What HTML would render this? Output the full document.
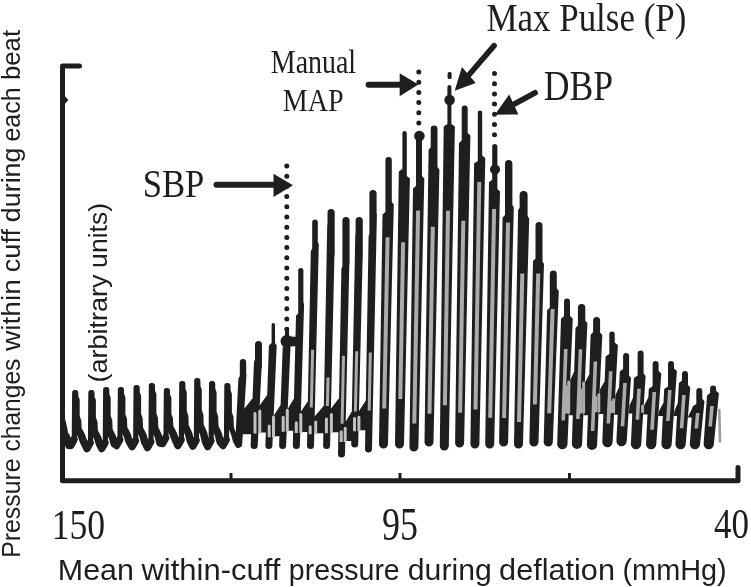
<!DOCTYPE html>
<html><head><meta charset="utf-8">
<style>
html,body{margin:0;padding:0;background:#fff;}
body{width:751px;height:587px;overflow:hidden;}
svg{display:block;will-change:transform;}
.sans{font-family:"Liberation Sans",sans-serif;}
.serif{font-family:"Liberation Serif",serif;}
</style></head>
<body>
<svg width="751" height="587" viewBox="0 0 751 587">
<rect width="751" height="587" fill="#fff"/>
<!-- axes -->
<path d="M79.5 66 H62.5 V480.8 H738 V467.5" fill="none" stroke="#1e1e1e" stroke-width="5" stroke-linejoin="round" stroke-linecap="round"/>
<path d="M231 480 V473 M400 480 V473 M569.5 480 V473" stroke="#1e1e1e" stroke-width="3"/>
<path d="M64 95 L68.3 100 L64 105 Z" fill="#1e1e1e"/>
<!-- waveform -->
<path d="M63,421 L65,430 L66,440 L69,446 L70.8,445.5 L74.3,439.5 L74.7,392.7 L75.7,392.7 L75.8,397.1 L77.1,400 L77.1,416.6 L78.7,420.7 L79.1,430.1 L81.6,436 L83.3,441 L87,448.5 L90.5,442.5 L90.9,392.7 L91.9,392.7 L92,397.4 L93.3,400.5 L93.3,417.9 L94.9,422.2 L95.3,432.2 L97.8,438.4 L99.5,444 L101.8,448.5 L105.3,442.5 L105.7,389.7 L106.7,389.7 L106.8,394.8 L108.1,398.1 L108.1,416.2 L109.7,420.8 L110.1,431.2 L112.6,437.7 L114.3,444 L116.5,445.5 L120,439.5 L120.4,389.7 L121.4,389.7 L121.5,394.4 L122.8,397.5 L122.8,414.9 L124.4,419.2 L124.8,429.2 L127.3,435.4 L129,441 L132.2,446.5 L135.7,440.5 L136.1,387.7 L137.1,387.7 L137.2,392.8 L138.5,396.1 L138.5,414.2 L140.1,418.8 L140.5,429.2 L143,435.7 L144.7,442 L147.5,447.5 L151,441.5 L151.4,385.7 L152.4,385.7 L152.5,391.2 L153.8,394.6 L153.8,413.6 L155.4,418.4 L155.8,429.2 L158.3,436 L160,443 L162.5,443.5 L166,437.5 L166.4,390.7 L167.4,390.7 L167.5,395.1 L168.8,398 L168.8,414.6 L170.4,418.7 L170.8,428.1 L173.3,434 L175,439 L177.9,445.5 L181.4,439.5 L181.8,383.7 L182.8,383.7 L182.9,389.2 L184.2,392.6 L184.2,411.6 L185.8,416.4 L186.2,427.2 L188.7,434 L190.4,441 L192.9,446 L196.4,440 L196.8,380.7 L197.8,380.7 L197.9,386.6 L199.2,390.2 L199.2,410.2 L200.8,415.2 L201.2,426.6 L203.7,433.8 L205.4,441.5 L207.7,446.5 L211.2,440.5 L211.6,383.7 L212.6,383.7 L212.7,389.3 L214,392.7 L214,412.1 L215.6,416.9 L216,427.9 L218.5,434.8 L220.2,442 L223,445.5 L226.5,439.5 L226.9,385.7 L227.9,385.7 L228,390.9 L229.3,394.2 L229.3,412.7 L230.9,417.3 L231.3,427.9 L233.8,434.5 L235.5,441 L238,445.5" fill="none" stroke="#1e1e1e" stroke-width="5.2" stroke-linejoin="round" stroke-linecap="round"/>
<path d="M79.1,431.3 L81.6,436 L83.3,441 L87,448.5 L90.1,443 M66,436 L69,445.5 L70.8,445.5 L73.9,439.5 M95.3,433.4 L97.8,438.4 L99.5,444 L101.8,448.5 L104.9,443 M110.1,432.5 L112.6,437.7 L114.3,444 L116.5,445.5 L119.6,440 M124.8,430.4 L127.3,435.4 L129,441 L132.2,446.5 L135.3,441 M140.5,430.5 L143,435.7 L144.7,442 L147.5,447.5 L150.6,442 M155.8,430.6 L158.3,436 L160,443 L162.5,443.5 L165.6,438 M170.8,429.3 L173.3,434 L175,439 L177.9,445.5 L181,440 M186.2,428.6 L188.7,434 L190.4,441 L192.9,446 L196,440.5 M201.2,428.1 L203.7,433.8 L205.4,441.5 L207.7,446.5 L210.8,441 M216,429.3 L218.5,434.8 L220.2,442 L223,445.5 L226.1,440" fill="none" stroke="#1e1e1e" stroke-width="7.5" stroke-linejoin="round" stroke-linecap="round"/>
<path d="M239.8,362.2 A3.2,3.2 0 0 1 246.2,362.2 L246.2,373.1 L246.4,375.6 L242.2,444 A3.5,3.5 0 0 1 235.2,444 L238.4,378.6 L239.8,376.1 Z M255,344.5 A3.5,3.5 0 0 1 262,344.5 L262,367 L261.5,369.5 L257.7,445.5 A3.5,3.5 0 0 1 250.6,445.5 L254,361.7 L255,359.2 Z M271.6,324.7 A1.7,1.7 0 0 1 275,324.7 L275,343 L276.7,345.5 L272.4,445.5 A3.5,3.5 0 0 1 265.4,445.5 L268.9,345.5 L271.6,343 Z M285,329 A2,2 0 0 1 289,329 L289,340 L290.7,342.5 L286.1,445.5 A3.5,3.5 0 0 1 279.1,445.5 L282.7,347.5 L285,345 Z M298.2,270.6 A2.6,2.6 0 0 1 303.4,270.6 L303.4,302.1 L304.1,304.6 L299.9,445.5 A3.5,3.5 0 0 1 292.8,445.5 L296,315.8 L298.2,313.3 Z M312.2,222.3 A2.8,2.8 0 0 1 317.8,222.3 L317.8,241.7 L318.8,244.2 L314,445.5 A3.5,3.5 0 0 1 307,445.5 L310.8,251.1 L312.2,248.6 Z M327.5,212.6 A3.6,3.6 0 0 1 334.7,212.6 L334.7,254 L334.4,256.5 L330.1,445.5 A3.5,3.5 0 0 1 323.1,445.5 L327.2,226.1 L327.5,223.6 Z M342.4,220.6 A3.6,3.6 0 0 1 349.6,220.6 L349.6,262 L349.3,264.5 L345,454 A3.5,3.5 0 0 1 338,454 L341.4,268.8 L342.4,266.3 Z M355.6,220.6 A3.6,3.6 0 0 1 362.8,220.6 L362.8,256.4 L362.6,258.9 L358.2,444 A3.5,3.5 0 0 1 351.2,444 L355.3,234.6 L355.6,232.1 Z M369.4,193.6 A3.6,3.6 0 0 1 376.6,193.6 L376.6,212.5 L376.9,215 L372,449 A3.5,3.5 0 0 1 365,449 L368.6,236.3 L369.4,233.8 Z M385.4,160.2 A3.2,3.2 0 0 1 391.8,160.2 L391.8,202 L393.8,204.5 L388,444 A4.5,4.5 0 0 1 379,444 L382.5,214.5 L385.4,212 Z M402.4,133.2 A2.2,2.2 0 0 1 406.8,133.2 L406.8,176 L409.9,178.5 L404,444 A4.5,4.5 0 0 1 395,444 L398.8,171.5 L402.4,169 Z M416,134 A3,3 0 0 1 422,134 L422,176 L424.3,178.5 L418.4,447 A4.5,4.5 0 0 1 409.4,447 L413,188.5 L416,186 Z M430.7,128.9 A3.4,3.4 0 0 1 437.5,128.9 L437.5,167 L439.4,169.5 L433.5,442 A4.5,4.5 0 0 1 424.5,442 L428.6,149.7 L430.7,147.2 Z M447.4,87 A2,2 0 0 1 451.4,87 L451.4,124 L454.9,126.5 L448.8,446 A4.5,4.5 0 0 1 439.8,446 L443.7,126.5 L447.4,124 Z M461.7,108.5 A3,3 0 0 1 467.7,108.5 L467.7,132.9 L470.4,135.4 L464.1,443 A4.5,4.5 0 0 1 455.1,443 L459,143.1 L461.7,140.6 Z M477.8,112.7 A2.2,2.2 0 0 1 482.2,112.7 L482.2,155.5 L485.3,158 L479.4,444 A4.5,4.5 0 0 1 470.4,444 L474.1,163.6 L477.8,161.1 Z M492.2,146.6 A2.6,2.6 0 0 1 497.4,146.6 L497.4,189 L500,191.5 L494.2,444 A4.5,4.5 0 0 1 485.2,444 L489,182.3 L492.2,179.8 Z M505,163.7 A3.7,3.7 0 0 1 512.4,163.7 L512.4,205 L513.8,207.5 L508.1,442 A4.5,4.5 0 0 1 499.1,442 L502.6,217.5 L505,215 Z M519.6,195 A4,4 0 0 1 527.6,195 L527.6,216.1 L529.2,218.6 L523,444 A4.5,4.5 0 0 1 514,444 L518.1,210.3 L519.6,207.8 Z M535.5,225.5 A3.5,3.5 0 0 1 542.5,225.5 L542.5,261.4 L544,263.9 L538.5,442 A4.5,4.5 0 0 1 529.4,442 L533,260.9 L535.5,258.4 Z M549.8,274 A3.5,3.5 0 0 1 556.8,274 L556.8,288.5 L558.8,291 L552.8,442 A4.5,4.5 0 0 1 543.7,442 L547.1,310.2 L549.8,307.7 Z M564,301.5 A3,3 0 0 1 570,301.5 L570,316 L572.8,318.5 L567.5,444 A5.1,5.1 0 0 1 557.2,444 L561,318.7 L564,316.2 Z M577.9,307.7 A3.7,3.7 0 0 1 585.3,307.7 L585.3,320.8 L587.4,323.3 L582.1,444 A5.1,5.1 0 0 1 571.9,444 L575.5,328 L577.9,325.5 Z M593.1,320.5 A3.5,3.5 0 0 1 600.1,320.5 L600.1,332.5 L602.3,335 L597.1,445 A5.1,5.1 0 0 1 586.9,445 L590.6,334.7 L593.1,332.2 Z M609.3,334.2 A2.7,2.7 0 0 1 614.7,334.2 L614.7,342.5 L617.9,345 L612.6,442 A5.1,5.1 0 0 1 602.3,442 L605.6,356.6 L609.3,354.1 Z M623.1,356 A3,3 0 0 1 629.1,356 L629.1,375.6 L631,378.1 L626.7,441 A5.1,5.1 0 0 1 616.4,441 L619.8,371.4 L623.1,368.9 Z M637.6,353.5 A3,3 0 0 1 643.6,353.5 L643.6,373.6 L645.6,376.1 L641.2,444 A5.1,5.1 0 0 1 630.9,444 L633.9,378.1 L637.6,375.6 Z M652.6,364 A3,3 0 0 1 658.6,364 L658.6,371 L661.3,373.5 L656.3,444 A5.1,5.1 0 0 1 646,444 L648.8,388.8 L652.6,386.3 Z M668,364 A3,3 0 0 1 674,364 L674,368.6 L676.9,371.1 L671.7,444 A5.1,5.1 0 0 1 661.4,444 L664.2,389.1 L668,386.6 Z M682,374 A3,3 0 0 1 688,374 L688,385.1 L690.3,387.6 L685.7,444 A5.1,5.1 0 0 1 675.4,444 L678.9,383.1 L682,380.6 Z M696.3,391 A3,3 0 0 1 702.3,391 L702.3,398.7 L704.5,401.2 L700.1,444 A5.1,5.1 0 0 1 689.8,444 L692.5,406.5 L696.3,404 Z M710.1,388.5 A3,3 0 0 1 716.1,388.5 L716.1,390.8 L718.9,393.3 L713.9,444 A5.1,5.1 0 0 1 703.6,444 L707,395.4 L710.1,392.9 Z M244.2,409.1 L253.4,397.1 L251.9,434.2 L242.7,434.2 Z M259.5,405.7 L268,393.7 L266.5,432.6 L258,432.6 Z M273.7,415.8 L281.4,403.8 L279.9,436.3 L272.2,436.3 Z M287.7,409.1 L294.9,397.1 L293.4,430.7 L286.2,430.7 Z M300.8,411.7 L308.8,399.7 L307.3,432.1 L299.3,432.1 Z M314.7,416.6 L324.8,404.6 L323.3,433.2 L313.2,433.2 Z M330.9,408.7 L340,396.7 L338.5,432.3 L329.4,432.3 Z M345.7,421.8 L352.8,409.8 L351.3,440.9 L344.2,440.9 Z M359,411 L366.8,399 L365.3,430.3 L357.5,430.3 Z M570.4,379.8 L575,369.8 L573.7,415.3 L569.1,415.3 Z M585,382.5 L590.2,372.5 L588.9,415.3 L583.7,415.3 Z M600,389.5 L605.6,379.5 L604.4,414 L598.9,414 Z M615.4,395.2 L619.9,385.2 L618.7,414.7 L614.4,414.7 Z M629.5,405.5 L634,395.5 L633.3,413.4 L628.8,413.4 Z M644,405.8 L649.2,395.8 L648.5,414.5 L643.3,414.5 Z M659,411 L664.4,401 L663.8,416.1 L658.4,416.1 Z M674.4,411 L678.6,401 L678,416 L673.8,416 Z M688.4,416 L693.3,406 L692.7,417.5 L687.9,417.5 Z" fill="#1e1e1e"/>
<path d="M311.1,349.7L314.1,349.7L312.8,407.4L309.8,407.4Z M326.5,377.4L329.5,377.4L328.9,405.9L325.9,405.9Z M342,355.8L345,355.8L343.6,423.8L340.6,423.8Z M355.2,351.2L358.2,351.2L356.9,411.6L353.9,411.6Z M368.8,352.6L371.8,352.6L370.7,410.6L367.7,410.6Z M385.6,237.3L389.6,237.3L386.2,408.5L382.2,408.5Z M401.1,242.2L405.1,242.2L402.3,399.1L398.3,399.1Z M416.1,210.4L420.1,210.4L416.3,423.6L412.3,423.6Z M430.8,226.8L434.8,226.8L431.5,413.8L427.5,413.8Z M446,210.8L450,210.8L446.9,405.3L442.9,405.3Z M461.3,220.8L465.3,220.8L462.1,412.8L458.1,412.8Z M477.3,181.9L481.3,181.9L477.5,409.4L473.5,409.4Z M492.1,209L496.1,209L492.2,417.7L488.2,417.7Z M506,222.5L510,222.5L506.1,418.1L502.1,418.1Z M520.3,273.4L524.3,273.4L521,422L517,422Z M536.2,273.4L540.2,273.4L536.9,404.5L532.9,404.5Z M550.6,308.9L554.6,308.9L551.2,413.2L547.2,413.2Z M564,349.1L567.6,349.1L565,420.4L561.4,420.4Z M578.7,349.2L582.3,349.2L579.7,419.1L576.1,419.1Z M593.6,361.6L597.2,361.6L594.4,431.1L590.8,431.1Z M608.9,371.3L612.5,371.3L610.1,423.6L606.5,423.6Z M623.2,382.9L626.8,382.9L624.3,426.2L620.7,426.2Z M637.3,388.8L640.9,388.8L639.2,419.7L635.6,419.7Z M652.5,391.9L656.1,391.9L653.8,429.8L650.2,429.8Z M668,390.1L671.6,390.1L669.7,421.1L666.1,421.1Z M682.1,395L685.7,395L683.4,428.3L679.8,428.3Z M695.9,413L699.5,413L698.1,428.6L694.5,428.6Z M710.2,405.9L713.8,405.9L712,426.6L708.4,426.6Z M567.2,382 A1.5,1.5 0 0 1 570.2,382 V412.3 A1.5,1.5 0 0 1 567.2,412.3 Z M564.4,386.4 A1.5,1.5 0 0 1 567.4,386.4 V412.3 A1.5,1.5 0 0 1 564.4,412.3 Z M582.1,383 A1.5,1.5 0 0 1 585.1,383 V412.3 A1.5,1.5 0 0 1 582.1,412.3 Z M579,389.6 A1.5,1.5 0 0 1 582,389.6 V412.3 A1.5,1.5 0 0 1 579,412.3 Z M597.3,394.8 A1.5,1.5 0 0 1 600.3,394.8 V411 A1.5,1.5 0 0 1 597.3,411 Z M594,397.3 A1.5,1.5 0 0 1 597,397.3 V411 A1.5,1.5 0 0 1 594,411 Z M612.1,399.7 A1.5,1.5 0 0 1 615.1,399.7 V411.7 A1.5,1.5 0 0 1 612.1,411.7 Z M609.4,401.9 A1.5,1.5 0 0 1 612.4,401.9 V411.7 A1.5,1.5 0 0 1 609.4,411.7 Z M641.1,405.9 A1.5,1.5 0 0 1 644.1,405.9 V411.5 A1.5,1.5 0 0 1 641.1,411.5 Z" fill="#ababab"/>
<path d="M258.3,410.9 A1.5,1.5 0 0 1 261.3,410.9 V433.6 H258.3 Z M253.5,413.4 A1.5,1.5 0 0 1 256.5,413.4 V433.6 H253.5 Z M272,416.9 A1.5,1.5 0 0 1 275,416.9 V437.3 H272 Z M267.7,426.1 A1.5,1.5 0 0 1 270.7,426.1 V437.3 H267.7 Z M285.8,410.2 A1.5,1.5 0 0 1 288.8,410.2 V431.7 H285.8 Z M281.7,417.2 A1.5,1.5 0 0 1 284.7,417.2 V431.7 H281.7 Z M299.3,414.6 A1.5,1.5 0 0 1 302.3,414.6 V433.1 H299.3 Z M294.8,422.7 A1.5,1.5 0 0 1 297.8,422.7 V433.1 H294.8 Z M314.2,422 A1.5,1.5 0 0 1 317.2,422 V434.2 H314.2 Z M308.7,426.8 A1.5,1.5 0 0 1 311.7,426.8 V434.2 H308.7 Z M329.9,414.4 A1.5,1.5 0 0 1 332.9,414.4 V433.3 H329.9 Z M324.9,419 A1.5,1.5 0 0 1 327.9,419 V433.3 H324.9 Z M343.7,428.2 A1.5,1.5 0 0 1 346.7,428.2 V441.9 H343.7 Z M339.7,431.7 A1.5,1.5 0 0 1 342.7,431.7 V441.9 H339.7 Z M357.4,417.2 A1.5,1.5 0 0 1 360.4,417.2 V431.3 H357.4 Z M353,418.6 A1.5,1.5 0 0 1 356,418.6 V431.3 H353 Z" fill="#c2c2c2"/>
<path d="M719.3 410 L720 441.5" stroke="#9a9a9a" stroke-width="2.6" stroke-linecap="round"/>
<!-- dotted lines -->
<g stroke="#1e1e1e" stroke-width="5" stroke-linecap="round" fill="none" stroke-dasharray="0 10.2">
<path d="M286.8 166 V330"/>
<path d="M418.8 72 V128"/>
<path d="M494.5 73.5 V140"/>
</g>
<!-- dots -->
<g fill="#1e1e1e">
<circle cx="286.9" cy="341.3" r="6.3"/>
<path d="M291 336.5 L298 337 V346 L291 346.5 Z"/>
<circle cx="419.4" cy="136" r="5.3"/>
<circle cx="449.6" cy="100" r="5.3"/>
<circle cx="495" cy="169.5" r="5"/>
</g>
<!-- arrows -->
<g stroke="#1e1e1e" stroke-width="6" stroke-linecap="round" fill="none">
<path d="M216.5 184.8 H276"/>
<path d="M368.6 84.7 H401"/>
</g>
<g stroke="#1e1e1e" stroke-width="5.6" stroke-linecap="round" fill="none">
<path d="M494.1 45.7 L468 76"/>
<path d="M535.2 92.8 L513 104.8"/>
</g>
<g fill="#1e1e1e">
<path d="M273.5 173.7 L293 185.3 L273.5 197 Z"/>
<path d="M399.7 73.3 L418.3 84.6 L399.7 96.2 Z"/>
<path d="M461.9 67.1 L475.7 83 L454.7 90.7 Z"/>
<path d="M509.2 94.4 L518.4 114.4 L494.8 114.8 Z"/>
<rect x="447.6" y="72" width="4" height="7" rx="1.5"/>
</g>
<!-- labels -->
<g class="words" fill="#1e1e1e">
<text class="w" id="sbp" x="142.7" y="197.2" font-family='"Liberation Serif",serif' font-size="39.18" textLength="61.69" lengthAdjust="spacingAndGlyphs">SBP</text>
<text class="w" id="manual" x="270.8" y="72.8" font-family='"Liberation Serif",serif' font-size="33.90" textLength="85.32" lengthAdjust="spacingAndGlyphs">Manual</text>
<text class="w" id="map" x="282.8" y="111" font-family='"Liberation Serif",serif' font-size="31.47" textLength="60.83" lengthAdjust="spacingAndGlyphs">MAP</text>
<text class="w" id="maxp" x="486.4" y="30.6" font-family='"Liberation Serif",serif' font-size="39.41" textLength="200.01" lengthAdjust="spacingAndGlyphs">Max Pulse (P)</text>
<text class="w" id="dbp" x="543.7" y="100" font-family='"Liberation Serif",serif' font-size="42.18" textLength="69.33" lengthAdjust="spacingAndGlyphs">DBP</text>
<text class="w" id="n150" x="51.7" y="539.3" font-family='"Liberation Serif",serif' font-size="43.21" textLength="53.50" lengthAdjust="spacingAndGlyphs">150</text>
<text class="w" id="n95" x="382" y="539.5" font-family='"Liberation Serif",serif' font-size="47.41" textLength="35.96" lengthAdjust="spacingAndGlyphs">95</text>
<text class="w" id="n40" x="714" y="538" font-family='"Liberation Serif",serif' font-size="41.40" textLength="35.00" lengthAdjust="spacingAndGlyphs">40</text>
<text class="w" id="xl0" x="57.8" y="580.4" font-family='"Liberation Sans",sans-serif' font-size="29.00" textLength="76.07" lengthAdjust="spacingAndGlyphs">Mean</text>
<text class="w" id="xl1" x="141.5" y="580.4" font-family='"Liberation Sans",sans-serif' font-size="29.00" textLength="138.90" lengthAdjust="spacingAndGlyphs">within-cuff</text>
<text class="w" id="xl2" x="288.8" y="580.4" font-family='"Liberation Sans",sans-serif' font-size="29.00" textLength="110.93" lengthAdjust="spacingAndGlyphs">pressure</text>
<text class="w" id="xl3" x="407.8" y="580.4" font-family='"Liberation Sans",sans-serif' font-size="29.00" textLength="83.94" lengthAdjust="spacingAndGlyphs">during</text>
<text class="w" id="xl4" x="499.1" y="580.4" font-family='"Liberation Sans",sans-serif' font-size="29.00" textLength="115.85" lengthAdjust="spacingAndGlyphs">deflation</text>
<text class="w" id="xl5" x="622.5" y="580.4" font-family='"Liberation Sans",sans-serif' font-size="29.00" textLength="104.24" lengthAdjust="spacingAndGlyphs">(mmHg)</text>
<text class="w" id="yl0" transform="translate(19.6 557.8) rotate(-90)" font-family='"Liberation Sans",sans-serif' font-size="25.08" textLength="99.32" lengthAdjust="spacingAndGlyphs">Pressure</text>
<text class="w" id="yl1" transform="translate(19.6 451.5) rotate(-90)" font-family='"Liberation Sans",sans-serif' font-size="25.08" textLength="92.92" lengthAdjust="spacingAndGlyphs">changes</text>
<text class="w" id="yl2" transform="translate(19.6 351.1) rotate(-90)" font-family='"Liberation Sans",sans-serif' font-size="25.08" textLength="71.98" lengthAdjust="spacingAndGlyphs">within</text>
<text class="w" id="yl3" transform="translate(19.6 272.2) rotate(-90)" font-family='"Liberation Sans",sans-serif' font-size="25.08" textLength="43.21" lengthAdjust="spacingAndGlyphs">cuff</text>
<text class="w" id="yl4" transform="translate(19.6 222.2) rotate(-90)" font-family='"Liberation Sans",sans-serif' font-size="25.08" textLength="74.68" lengthAdjust="spacingAndGlyphs">during</text>
<text class="w" id="yl5" transform="translate(19.6 141.5) rotate(-90)" font-family='"Liberation Sans",sans-serif' font-size="25.08" textLength="53.98" lengthAdjust="spacingAndGlyphs">each</text>
<text class="w" id="yl6" transform="translate(19.6 80.1) rotate(-90)" font-family='"Liberation Sans",sans-serif' font-size="25.08" textLength="50.15" lengthAdjust="spacingAndGlyphs">beat</text>
<text class="w" id="al0" transform="translate(106.8 382.5) rotate(-90)" font-family='"Liberation Sans",sans-serif' font-size="26.25" textLength="108.02" lengthAdjust="spacingAndGlyphs">(arbitrary</text>
<text class="w" id="al1" transform="translate(106.8 267.9) rotate(-90)" font-family='"Liberation Sans",sans-serif' font-size="26.25" textLength="65.02" lengthAdjust="spacingAndGlyphs">units)</text>
</g>
</svg>
</body></html>
